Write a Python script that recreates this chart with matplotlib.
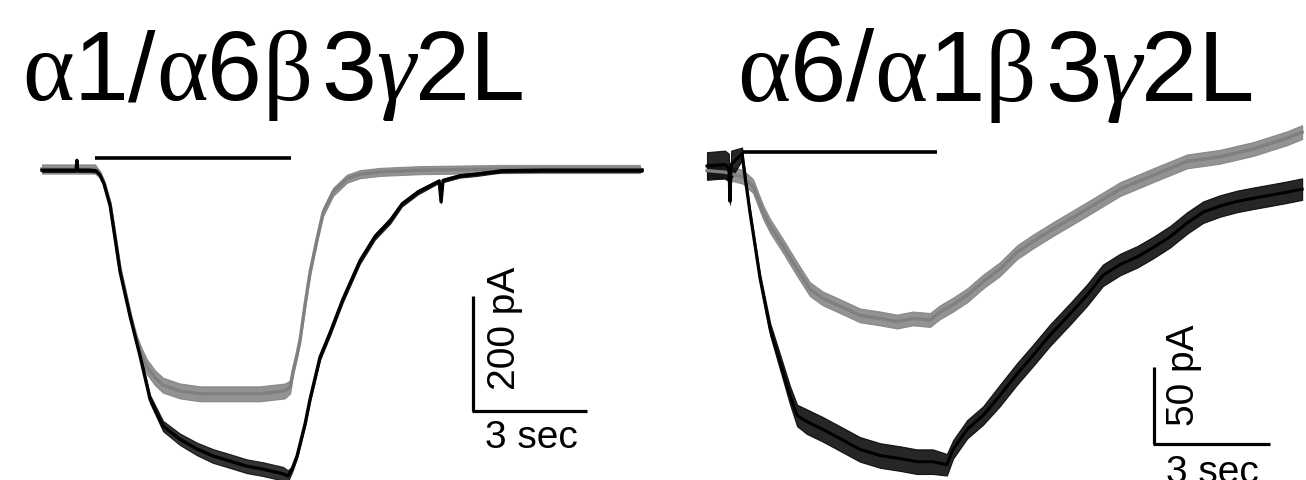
import matplotlib
matplotlib.use("Agg")
import matplotlib.pyplot as plt

# ---------------- data (time in s, current in pA) ----------------
# Left panel: alpha1/alpha6 beta3 gamma2L
left_black_t = [0.00, 0.73, 0.89, 0.91, 0.93, 1.25, 1.41, 1.51, 1.62, 1.78, 2.04, 2.30, 2.56, 2.82,
                3.16, 3.60, 4.05, 4.46, 4.91, 5.35, 5.77, 6.29, 6.42, 6.53, 6.66, 6.87, 7.00,
                7.26, 7.52, 7.86, 8.30, 8.69, 9.09, 9.40, 9.82, 10.37, 10.42, 10.47, 10.91,
                11.36, 12.01, 13.11, 15.67]
left_black_pA = [-2, -2, -2, 15, -2, -2, -3, -10, -26, -64, -179, -256, -325, -400,
                 -447, -470, -487, -499, -508, -517, -522, -530, -534, -522, -499, -443, -400,
                 -327, -285, -226, -160, -118, -90, -61, -40, -21, -57, -20, -12,
                 -9, -3, -2, -2]
left_black_noise = [3, 3, 3, 3, 3, 3, 3, 3, 3, 3, 3, 4, 5, 7,
                    9, 10, 11, 12, 12, 12, 12, 12, 10, 5, 4, 4, 4,
                    5, 5, 5, 5, 5, 5, 4, 4, 3, 2, 3, 3,
                    3, 3, 3, 3]

left_gray_t = [0.00, 1.38, 1.51, 1.62, 1.78, 2.04, 2.30, 2.38, 2.48, 2.61, 2.74, 2.95, 3.16, 3.60,
               4.13, 4.91, 5.69, 6.34, 6.48, 6.55, 6.66, 6.74, 6.87, 7.00, 7.18, 7.34, 7.60,
               7.96, 8.30, 8.83, 9.87, 11.96, 15.61]
left_gray_pA = [0, 0, -9, -24, -61, -174, -252, -275, -301, -325, -344, -363, -376, -386,
                -391, -391, -391, -386, -379, -353, -322, -296, -235, -179, -122, -75, -40,
                -17, -9, -5, -2, 0, 0]
left_gray_noise = [8, 8, 6, 5, 5, 5, 6, 8, 10, 12, 13, 13, 13, 13,
                   13, 13, 13, 13, 11, 7, 6, 6, 6, 6, 6, 7, 7,
                   7, 7, 7, 7, 7, 7]

left_bar_t = [1.38, 6.50]      # agonist application
left_bar_pA = 19

# Right panel: alpha6/alpha1 beta3 gamma2L
right_black_t = [0.00, 0.46, 0.56, 0.59, 0.62, 0.90, 0.92, 1.10, 1.36, 1.62, 1.87, 2.13, 2.31, 2.56,
                 2.97, 3.41, 3.92, 4.44, 4.95, 5.38, 5.79, 6.15, 6.31, 6.67, 7.08, 7.51,
                 7.95, 8.36, 8.79, 9.31, 9.74, 10.15, 10.59, 11.03, 11.44, 11.87, 12.31,
                 12.72, 13.15, 13.59, 14.00, 14.44, 14.87, 15.26]
right_black_pA = [0, 1, -1, -23, 1, 8, 3, -30, -73, -106, -127, -149, -162, -166,
                  -171, -177, -184, -188, -190, -192, -192, -194, -184, -171, -162, -149,
                  -135, -123, -110, -96, -84, -71, -64, -59, -53, -46, -37,
                  -30, -26, -23, -21, -19, -17, -15]
right_black_noise = [9, 9, 9, 2, 9, 4, 4, 3, 3, 4, 5, 6, 7, 8,
                     8, 8, 8, 8, 8, 8, 8, 7, 6, 6, 6, 7,
                     7, 7, 7, 7, 7, 7, 7, 7, 7, 7, 7,
                     7, 7, 7, 7, 7, 7, 7]

right_gray_t = [0.00, 0.46, 0.92, 1.18, 1.44, 1.62, 1.95, 2.31, 2.64, 2.97, 3.41, 3.92, 4.44,
                4.87, 5.28, 5.72, 5.97, 6.31, 6.67, 7.08, 7.51, 7.95, 8.36, 8.87, 9.74,
                10.59, 11.44, 12.31, 13.15, 14.00, 14.87, 15.26]
right_gray_pA = [-3, -4, -7, -13, -30, -39, -52, -67, -80, -86, -91, -97, -99,
                 -101, -99, -100, -95, -90, -84, -75, -67, -56, -49, -41, -28,
                 -15, -6, 3, 6, 11, 18, 22]
right_gray_noise = 4.5

right_bar_t = [0.90, 5.90]
right_bar_pA = 9

left_title = ['α', '1', '/', 'α', '6', 'β', '3', 'γ', '2', 'L']
right_title = ['α', '6', '/', 'α', '1', 'β', '3', 'γ', '2', 'L']
left_scale = (200, 3)    # pA, sec
right_scale = (50, 3)

# ---------------- style / layout ----------------
W, H = 1306, 481
BLACK = '#000000'
GRAY = '#808080'

fig = plt.figure(figsize=(W / 100, H / 100), dpi=100)
fig.patch.set_facecolor('white')


def make_axes(x0_px, y0_px, px_per_s, px_per_pA):
    ax = fig.add_axes([0, 0, 1, 1])
    ax.set_xlim(-x0_px / px_per_s, (W - x0_px) / px_per_s)
    ax.set_ylim(-(H - y0_px) / px_per_pA, y0_px / px_per_pA)
    ax.axis('off')
    ax.patch.set_visible(False)
    return ax


axL = make_axes(42, 170, 38.3, 0.575)
axR = make_axes(707, 167, 39.0, 1.54)


def trace(ax, t, y, noise, color, lw, alpha):
    if isinstance(noise, (int, float)):
        noise = [noise] * len(t)
    lo = [a - n for a, n in zip(y, noise)]
    hi = [a + n for a, n in zip(y, noise)]
    ax.fill_between(t, lo, hi, color=color, alpha=alpha, linewidth=0.8)
    ax.plot(t, y, color=color, lw=lw, solid_joinstyle='round')


trace(axL, left_gray_t, left_gray_pA, left_gray_noise, GRAY, 2.4, 0.85)
trace(axL, left_black_t, left_black_pA, left_black_noise, BLACK, 2.4, 0.8)
trace(axR, right_gray_t, right_gray_pA, right_gray_noise, GRAY, 2.4, 0.85)
trace(axR, right_black_t, right_black_pA, right_black_noise, BLACK, 2.2, 0.85)

axL.plot(left_bar_t, [left_bar_pA] * 2, color=BLACK, lw=2.6, solid_capstyle='butt')
axR.plot(right_bar_t, [right_bar_pA] * 2, color=BLACK, lw=2.6, solid_capstyle='butt')


def scale_bar(ax, x, y, scale, label_dx, label_dy, fs):
    pa, sec = scale
    ax.plot([x, x], [y, y + pa], color=BLACK, lw=2.3, solid_capstyle='butt')
    ax.plot([x - 0.03, x - 0.03 + sec], [y, y], color=BLACK, lw=2.3, solid_capstyle='butt')
    ax.text(x + label_dx, y + pa / 2 + label_dy, f'{pa} pA', rotation=90, ha='center',
            va='center', fontsize=fs, family='Liberation Sans', clip_on=False)


scale_bar(axL, 11.25, -421, left_scale, 0.84, 45, 28)
axL.text(12.79, -483, f'{left_scale[1]} sec', ha='center', va='baseline', fontsize=28,
         family='Liberation Sans')
scale_bar(axR, 11.46, -180.5, right_scale, 0.77, 20, 28)
axR.text(12.95, -205, f'{right_scale[1]} sec', ha='center', va='baseline', fontsize=28,
         family='Liberation Sans')

# titles: one glyph per text (Greek in serif, the rest in sans), laid out one after another
renderer = fig.canvas.get_renderer()


def title(chars, x_start, base_y, fs):
    x = x_start
    for ch in chars:
        greek = ch in 'αβγ'
        t = fig.text(x / W, 1 - base_y / H, ch, ha='left', va='baseline', fontsize=fs,
                     family='Liberation Serif' if greek else 'Liberation Sans',
                     style='italic' if ch == 'γ' else 'normal')
        bb = t.get_window_extent(renderer=renderer)
        x = bb.x1 + (9 if ch == 'β' else 0)


title(left_title, 22, 100, 71)
title(right_title, 737, 101, 73)

fig.savefig('out.png', dpi=100, facecolor='white')
